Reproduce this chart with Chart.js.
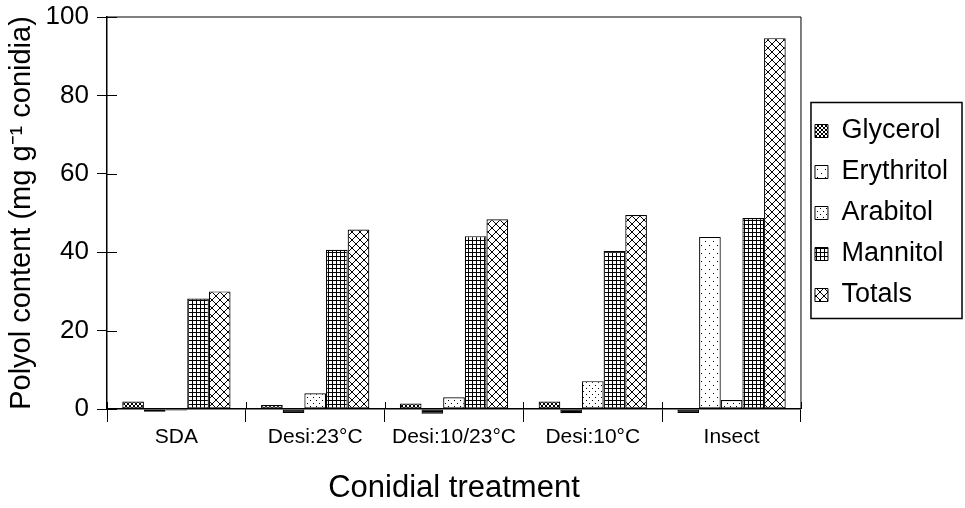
<!DOCTYPE html>
<html>
<head>
<meta charset="utf-8">
<script src="https://cdn.jsdelivr.net/npm/chart.js@4.4.1/dist/chart.umd.min.js"></script>
<style>
  html, body { margin: 0; padding: 0; background: #fff; }
  #chart { display: block; }
</style>
</head>
<body>
<canvas id="chart" width="965" height="508"></canvas>
<script>
// values (mg g-1 conidia)
const categories = ['SDA', 'Desi:23°C', 'Desi:10/23°C', 'Desi:10°C', 'Insect'];
const glycerol   = [1.9, 1.0, 1.4, 1.9, -1.0];
const erythritol = [-0.7, -1.0, -1.2, -1.1, 43.9];
const arabitol   = [-0.4, 4.0, 3.0, 7.1, 2.3];
const mannitol   = [28.2, 40.6, 44.1, 40.3, 48.7];
const totals     = [30.0, 45.8, 48.4, 49.5, 94.6];
const yTicks     = [0, 20, 40, 60, 80, 100];

const FONT = "'Liberation Sans', Arial, sans-serif";
const canvas = document.getElementById('chart');
const ctx = canvas.getContext('2d');

// small black & white hatch tiles, like the old Excel fill patterns
function makePattern(size, draw) {
    const c = document.createElement('canvas');
    c.width = c.height = size;
    const g = c.getContext('2d');
    g.fillStyle = '#fff';
    g.fillRect(0, 0, size, size);
    g.fillStyle = '#000';
    draw(g, size);
    return ctx.createPattern(c, 'repeat');
}

const patterns = [
    // glycerol
    makePattern(4, (g, s) => {
        for (let i = 0; i < s; i++) { g.fillRect(i, i, 1, 1); g.fillRect(s - 1 - i, i, 1, 1); }
    }),
    // erythritol
    makePattern(8, g => { g.fillRect(1, 1, 1, 1); g.fillRect(5, 5, 1, 1); }),
    // arabitol
    makePattern(6, g => { g.fillRect(1, 1, 1, 1); g.fillRect(4, 4, 1, 1); }),
    // mannitol
    makePattern(4, (g, s) => { g.fillRect(0, 0, s, 1); g.fillRect(0, 0, 1, s); }),
    // totals
    makePattern(8, (g, s) => {
        for (let i = 0; i < s; i++) { g.fillRect(i, i, 1, 1); g.fillRect(s - 1 - i, i, 1, 1); }
    })
];

// negative bars come out solid black (inverted pattern)
const fill = p => c => (c.type === 'data' && c.raw < 0) ? '#000' : p;

function series(label, data, pattern) {
    return {
        label: label,
        data: data,
        backgroundColor: fill(pattern),
        borderColor: '#000',
        borderWidth: 1.2,
        borderSkipped: false
    };
}

// plot frame, inner halves of the tick marks and legend box
const framePlugin = {
    id: 'frame',
    afterDraw(chart) {
        const { ctx, chartArea: a, scales: { x, y } } = chart;
        ctx.save();
        ctx.strokeStyle = '#000';
        ctx.lineWidth = 1;
        ctx.beginPath();
        ctx.moveTo(a.left, a.top);
        ctx.lineTo(a.right, a.top);
        ctx.lineTo(a.right, a.bottom);
        yTicks.forEach(v => {
            const py = Math.round(y.getPixelForValue(v)) + 0.5;
            ctx.moveTo(a.left, py);
            ctx.lineTo(a.left + 10, py);
        });
        for (let i = 0; i <= categories.length; i++) {
            const px = Math.round(x.getPixelForValue(i - 0.5)) + 0.5;
            ctx.moveTo(px, a.bottom);
            ctx.lineTo(px, a.bottom - 7);
        }
        ctx.stroke();

        const lg = chart.legend;
        if (lg && lg.legendHitBoxes && lg.legendHitBoxes.length) {
            const boxes = lg.legendHitBoxes;
            const top = boxes[0].top - 15;
            const bottom = boxes[boxes.length - 1].top + boxes[boxes.length - 1].height + 10;
            ctx.lineWidth = 1.5;
            ctx.strokeRect(a.right + 10, top, chart.width - 3 - (a.right + 10), bottom - top);
        }
        ctx.restore();
    }
};

new Chart(ctx, {
    type: 'bar',
    data: {
        labels: categories,
        datasets: [
            series('Glycerol', glycerol, patterns[0]),
            series('Erythritol', erythritol, patterns[1]),
            series('Arabitol', arabitol, patterns[2]),
            series('Mannitol', mannitol, patterns[3]),
            series('Totals', totals, patterns[4])
        ]
    },
    options: {
        responsive: false,
        animation: false,
        devicePixelRatio: 1,
        layout: { padding: { top: 17, right: 7, bottom: 0, left: 0 } },
        datasets: {
            bar: { categoryPercentage: 0.78, barPercentage: 1.0, clip: false }
        },
        plugins: {
            tooltip: { enabled: false },
            legend: {
                position: 'right',
                fullSize: false,
                align: 'center',
                labels: {
                    color: '#000',
                    font: { family: FONT, size: 27 },
                    boxWidth: 13,
                    boxHeight: 13,
                    padding: 14,
                    generateLabels: chart => {
                        const items = Chart.defaults.plugins.legend.labels.generateLabels(chart);
                        items.forEach((it, i) => { it.fillStyle = patterns[i]; it.lineWidth = 1; });
                        return items;
                    }
                }
            }
        },
        scales: {
            x: {
                grid: { drawOnChartArea: false, offset: true, tickLength: 13, color: '#000', lineWidth: 1 },
                border: { color: '#000', width: 1.5 },
                ticks: { color: '#000', font: { family: FONT, size: 21 }, padding: 3, maxRotation: 0 },
                title: {
                    display: true,
                    text: 'Conidial treatment',
                    color: '#000',
                    font: { family: FONT, size: 31 },
                    padding: { top: 4, bottom: 1 }
                },
                afterFit: s => { s.height = 99; }
            },
            y: {
                min: 0,
                max: 100,
                afterBuildTicks: s => { s.ticks = yTicks.map(v => ({ value: v })); },
                grid: { drawOnChartArea: false, tickLength: 10, color: '#000', lineWidth: 1 },
                border: { color: '#000', width: 1.5 },
                ticks: { color: '#000', font: { family: FONT, size: 26, lineHeight: 0.6 }, padding: 8 },
                title: {
                    display: true,
                    text: 'Polyol content (mg g⁻¹ conidia)',
                    color: '#000',
                    font: { family: FONT, size: 29 },
                    padding: { top: 5, bottom: 2 }
                },
                afterFit: s => { s.width = 107; }
            }
        }
    },
    plugins: [framePlugin]
});
</script>
</body>
</html>
